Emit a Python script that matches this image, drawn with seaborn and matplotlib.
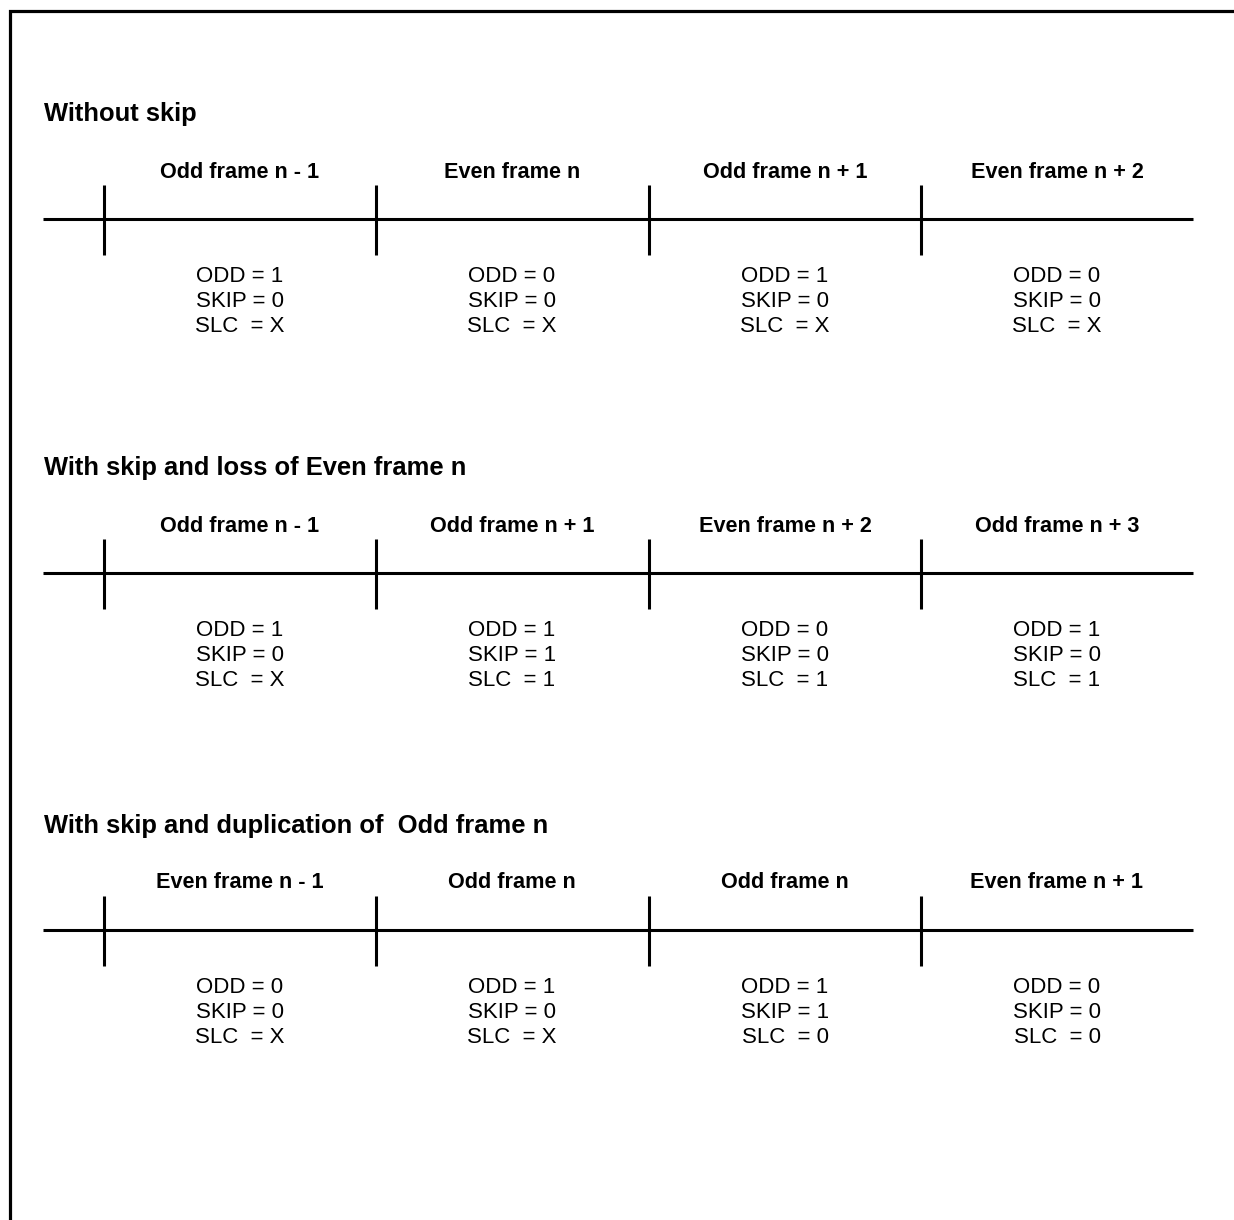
import numpy as np
import seaborn as sns
import matplotlib.pyplot as plt

sns.set_theme(style="white")
plt.rcParams['font.family'] = ['Liberation Sans', 'DejaVu Sans']
plt.rcParams['text.color'] = 'black'

# Dados do diagrama
titulos = ["Without skip",
           "With skip and loss of Even frame n",
           "With skip and duplication of  Odd frame n"]

quadros = [["Odd frame n - 1", "Even frame n", "Odd frame n + 1", "Even frame n + 2"],
           ["Odd frame n - 1", "Odd frame n + 1", "Even frame n + 2", "Odd frame n + 3"],
           ["Even frame n - 1", "Odd frame n", "Odd frame n", "Even frame n + 1"]]

odd = [["1", "0", "1", "0"],
       ["1", "1", "0", "1"],
       ["0", "1", "1", "0"]]

skip = [["0", "0", "0", "0"],
        ["0", "1", "0", "0"],
        ["0", "0", "1", "0"]]

slc = [["X", "X", "X", "X"],
       ["X", "1", "1", "1"],
       ["X", "X", "0", "0"]]

# Posições (pixels)
topo_secao = [112, 466, 823]
marcas_x = [104, 376, 649, 921]
largura = 272

fig = plt.figure(figsize=(12.34, 12.20), dpi=100)
ax = fig.add_axes([0, 0, 1, 1])
ax.set_xlim(0, 1234)
ax.set_ylim(1220, 0)
ax.axis("off")

# Borda (só topo e esquerda)
ax.plot([10, 10, 1234], [1220, 11, 11], color="black", lw=2.3, solid_joinstyle="miter")

for i, y0 in enumerate(topo_secao):
    ax.text(44, y0 + 9.5, titulos[i], fontsize=18.4, fontweight="bold", ha="left", va="baseline")
    y_linha = y0 + 107
    ax.hlines(y_linha, 43, 1193, color="black", lw=2.2)
    ax.vlines(marcas_x, y_linha - 34, y_linha + 36, color="black", lw=2.2)
    for j, x in enumerate(marcas_x):
        cx = x + largura / 2
        ax.text(cx, y0 + 65.5, quadros[i][j], fontsize=15.6, fontweight="bold", ha="center", va="baseline")
        ax.text(cx, y0 + 170, "ODD = " + odd[i][j], fontsize=16, ha="center", va="baseline")
        ax.text(cx, y0 + 195, "SKIP = " + skip[i][j], fontsize=16, ha="center", va="baseline")
        ax.text(cx, y0 + 220, "SLC  = " + slc[i][j], fontsize=16, ha="center", va="baseline")

plt.savefig("out.png", dpi=100)
plt.close()
